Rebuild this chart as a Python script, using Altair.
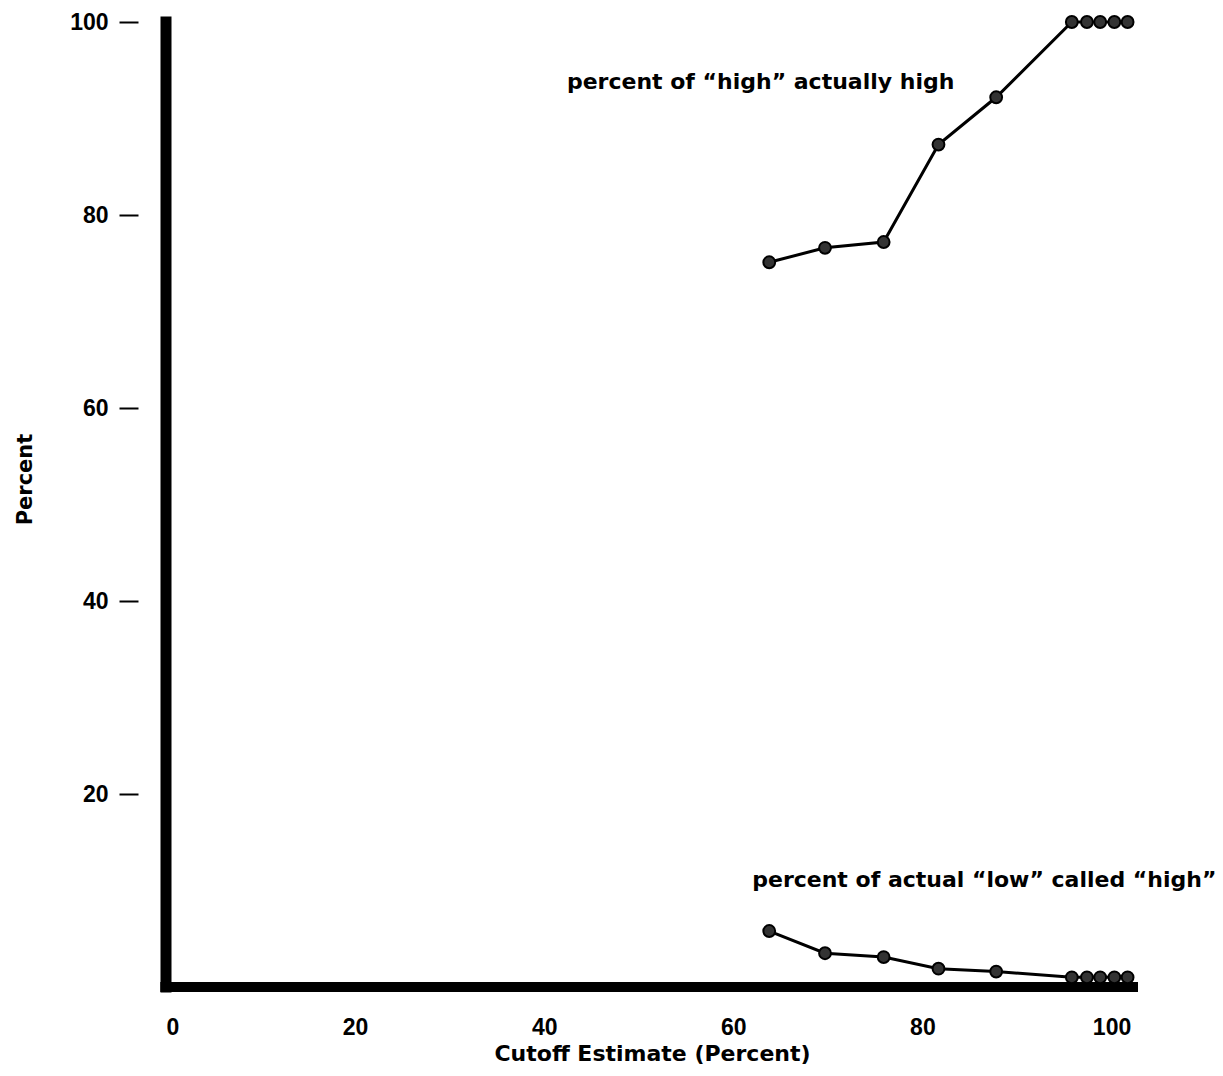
import altair as alt
import pandas as pd

cutoff = [63.8, 69.7, 75.9, 81.7, 87.8, 95.8, 97.4, 98.8, 100.3, 101.7]
high_actually_high = [75.1, 76.6, 77.2, 87.3, 92.2, 100, 100, 100, 100, 100]
low_called_high = [5.8, 3.5, 3.1, 1.9, 1.6, 1.0, 1.0, 1.0, 1.0, 1.0]

series_names = ["high", "low"]
notes = ["percent of \u201chigh\u201d actually high", "percent of actual \u201clow\u201d called \u201chigh\u201d"]
note_x = [42.4, 62.0]
note_y = [93.8, 11.1]

y_ticks = [20, 40, 60, 80, 100]
x_ticks = [0, 20, 40, 60, 80, 100]
x_max = 102.8

FONT = "Liberation Sans"
TFONT = "DejaVu Sans"

rows = []
for i, c in enumerate(cutoff):
    rows.append({"cutoff": c, "pct": high_actually_high[i], "series": series_names[0]})
    rows.append({"cutoff": c, "pct": low_called_high[i], "series": series_names[1]})
df = pd.DataFrame(rows)

notes_df = pd.DataFrame({"x": note_x, "y": note_y, "t": notes})
vaxis_df = pd.DataFrame({"x": [0], "y": [0], "y2": [100]})
haxis_df = pd.DataFrame({"x": [-0.6], "x2": [x_max], "y": [0]})

xs = alt.Scale(domain=[0, x_max], nice=False, zero=False)
ys = alt.Scale(domain=[0, 100], nice=False)

x_axis = alt.Axis(values=x_ticks, domain=False, ticks=False, grid=False,
                  labelFont=FONT, labelFontWeight="bold", labelFontSize=23,
                  labelColor="black", labelPadding=29,
                  title="Cutoff Estimate (Percent)", titleFont=TFONT,
                  titleFontWeight="bold", titleFontSize=22, titleColor="black",
                  titlePadding=4)
y_axis = alt.Axis(values=y_ticks, domain=False, ticks=True, tickSize=19,
                  tickWidth=2, tickColor="black", offset=28, grid=False,
                  labelFont=FONT, labelFontWeight="bold", labelFontSize=23,
                  labelColor="black", labelPadding=11,
                  title="Percent", titleFont=TFONT, titleFontWeight="bold",
                  titleFontSize=21, titleColor="black", titlePadding=34,
                  titleY=457)

vrule = alt.Chart(vaxis_df).mark_rule(color="black", strokeWidth=11, strokeCap="square").encode(
    x=alt.X("x:Q", scale=xs, axis=x_axis),
    y=alt.Y("y:Q", scale=ys, axis=y_axis),
    y2="y2:Q",
)
hrule = alt.Chart(haxis_df).mark_rule(color="black", strokeWidth=10).encode(
    x=alt.X("x:Q", scale=xs),
    x2="x2:Q",
    y=alt.Y("y:Q", scale=ys),
)
lines = alt.Chart(df).mark_line(color="black", strokeWidth=3).encode(
    x=alt.X("cutoff:Q", scale=xs),
    y=alt.Y("pct:Q", scale=ys),
    detail="series:N",
)
points = alt.Chart(df).mark_point(filled=True, fill="#333333", stroke="black",
                                  strokeWidth=2, size=140, opacity=1).encode(
    x=alt.X("cutoff:Q", scale=xs),
    y=alt.Y("pct:Q", scale=ys),
)
texts = alt.Chart(notes_df).mark_text(font=TFONT, fontWeight="bold", fontSize=22,
                                      align="left", baseline="middle", color="black").encode(
    x=alt.X("x:Q", scale=xs),
    y=alt.Y("y:Q", scale=ys),
    text="t:N",
)

chart = alt.layer(vrule, hrule, lines, points, texts).properties(
    width=972, height=965,
    autosize=alt.AutoSizeParams(type="none"),
    padding={"left": 166, "top": 22, "right": 85, "bottom": 89},
    background="white",
).configure_view(stroke=None)

chart.save("out.html", embed_options={"renderer": "svg", "actions": False})
